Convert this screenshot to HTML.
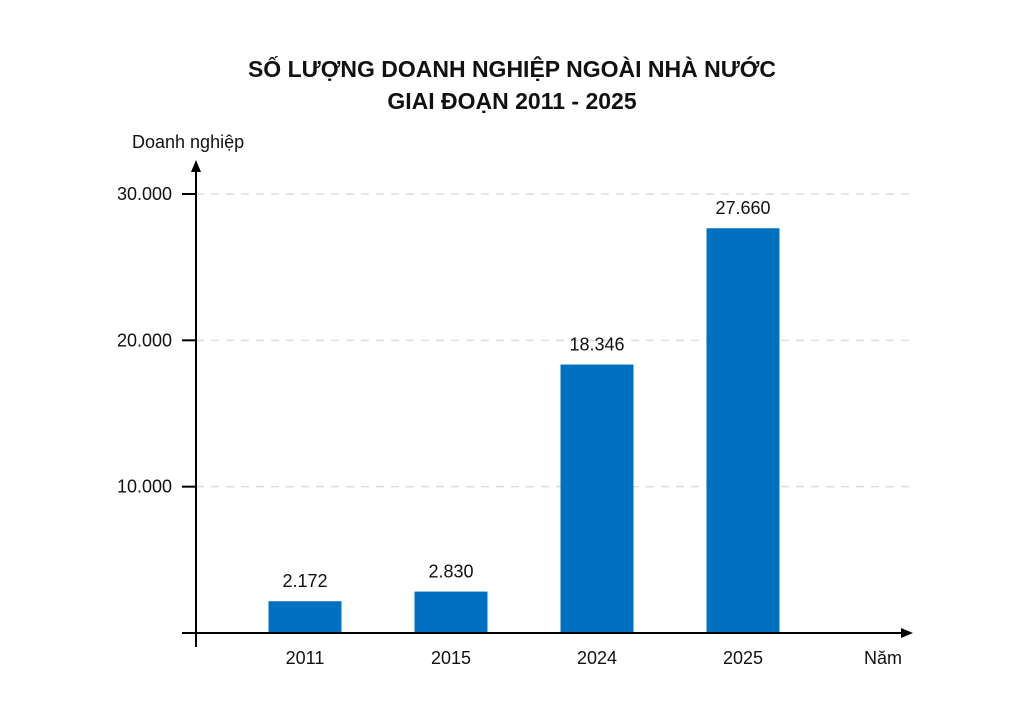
<!DOCTYPE html>
<html><head><meta charset="utf-8"><style>
html,body{margin:0;padding:0;background:#fff;width:1023px;height:721px;overflow:hidden}
svg text{font-family:"Liberation Sans",sans-serif;fill:#111}
</style></head><body>
<svg width="1023" height="721">
<text x="512" y="77" text-anchor="middle" font-size="23" font-weight="bold">SỐ LƯỢNG DOANH NGHIỆP NGOÀI NHÀ NƯỚC</text>
<text x="512" y="109" text-anchor="middle" font-size="23" font-weight="bold">GIAI ĐOẠN 2011 - 2025</text>
<text x="132" y="148" font-size="18">Doanh nghiệp</text>
<text x="864" y="664" font-size="18">Năm</text>
<g id="grid"></g><g id="bars"></g>
<line x1="196" y1="166" x2="196" y2="647" stroke="#000" stroke-width="2"/>
<polygon points="196,160 191,172 201,172" fill="#000"/>
<line x1="182" y1="633" x2="906" y2="633" stroke="#000" stroke-width="2"/>
<polygon points="913,633 901,628 901,638" fill="#000"/>
</svg>
<script>
const categories=["2011","2015","2024","2025"];
const values=[2172,2830,18346,27660];
const labels=["2.172","2.830","18.346","27.660"];
const ticks=[10000,20000,30000];
const tickLabels=["10.000","20.000","30.000"];
const NS="http://www.w3.org/2000/svg";
const y=v=>633-v*(439/30000);
const x=i=>305+i*146;
function mk(t,a,p){const e=document.createElementNS(NS,t);for(const k in a)e.setAttribute(k,a[k]);p.appendChild(e);return e;}
const g=document.getElementById('grid'),b=document.getElementById('bars');
ticks.forEach((t,i)=>{
 const l=mk('line',{x1:196,x2:912,y1:y(t),y2:y(t),stroke:'#ddd','stroke-width':1.5,'stroke-dasharray':'8,7'},g);
 
 
 const tk=mk('line',{x1:182,x2:196,y1:y(t),y2:y(t),stroke:'#000','stroke-width':2},g);
 
 
 const tx=mk('text',{x:172,y:y(t)+6,'text-anchor':'end','font-size':18},g);tx.textContent=tickLabels[i];
 
 
});
categories.forEach((c,i)=>{
 const r=mk('rect',{x:x(i)-36.5,y:y(values[i]),width:73,height:633-y(values[i]),fill:'#0070c0'},b);
 
 
 const v=mk('text',{x:x(i),y:y(values[i])-14,'text-anchor':'middle','font-size':18},b);v.textContent=labels[i];
 
 
 const cl=mk('text',{x:x(i),y:664,'text-anchor':'middle','font-size':18},b);cl.textContent=c;
 
 
});
</script>
</body></html>
